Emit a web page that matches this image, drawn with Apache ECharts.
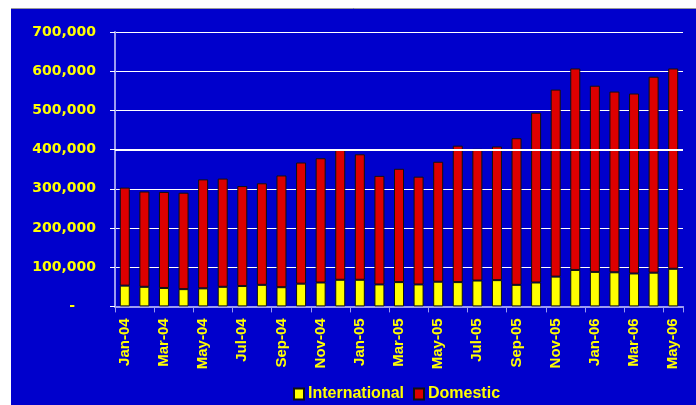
<!DOCTYPE html>
<html>
<head>
<meta charset="utf-8">
<script src="https://cdn.jsdelivr.net/npm/echarts@6/dist/echarts.min.js"></script>
<style>
  html, body { margin: 0; padding: 0; background: #ffffff; }
  #chart { width: 696px; height: 405px; }
</style>
</head>
<body>
<div id="chart"></div>
<script>
// Monthly passengers, Jan-04 to May-06
const months = [
  'Jan-04','Feb-04','Mar-04','Apr-04','May-04','Jun-04','Jul-04','Aug-04','Sep-04','Oct-04','Nov-04','Dec-04',
  'Jan-05','Feb-05','Mar-05','Apr-05','May-05','Jun-05','Jul-05','Aug-05','Sep-05','Oct-05','Nov-05','Dec-05',
  'Jan-06','Feb-06','Mar-06','Apr-06','May-06'
];
const international = [
  53000, 50000, 47000, 44000, 46000, 50000, 52000, 55000, 49000, 58000, 61000, 68000,
  68000, 56000, 62000, 56000, 63000, 62000, 66000, 67000, 55000, 61000, 76000, 93000,
  88000, 87000, 84000, 86000, 96000
];
const domestic = [
  250000, 243000, 245000, 246000, 278000, 276000, 255000, 259000, 285000, 309000, 317000, 331000,
  320000, 277000, 289000, 275000, 306000, 348000, 336000, 341000, 374000, 433000, 477000, 514000,
  475000, 461000, 459000, 500000, 511000
];
const yTicks = { min: 0, max: 700000, interval: 100000 };
const emphasisLevel = 400000;

const YELLOW = '#ffff00';
const RED = '#dd0000';
const AXIS = '#9c9cf0';

const chart = echarts.init(document.getElementById('chart'), null, { renderer: 'canvas' });

chart.setOption({
  backgroundColor: '#ffffff',
  animation: false,
  graphic: {
    elements: [
      {
        type: 'rect', z: -10,
        shape: { x: 11, y: 8, width: 685, height: 397 },
        style: { fill: '#0000cc' }
      },
      {
        type: 'line', z: -9,
        shape: { x1: 11, y1: 8.5, x2: 696, y2: 8.5 },
        style: { stroke: '#9a9a9a', lineWidth: 1 }
      }
    ]
  },
  grid: { left: 115, right: 13, top: 32, bottom: 98.6, containLabel: false },
  legend: {
    data: ['International', 'Domestic'],
    left: 293, top: 386,
    padding: 0,
    itemWidth: 10, itemHeight: 11,
    itemGap: 9,
    icon: 'rect',
    textStyle: { color: YELLOW, fontFamily: 'Liberation Sans', fontWeight: 'bold', fontSize: 16, padding: [0, 0, 0, -1] }
  },
  xAxis: {
    type: 'category',
    data: months,
    axisLine: { show: true, lineStyle: { color: AXIS, width: 2 } },
    axisTick: { show: true, interval: 1, length: 6, lineStyle: { color: AXIS, width: 1 } },
    axisLabel: {
      interval: 1, rotate: 90, margin: 12,
      color: YELLOW, fontFamily: 'Liberation Sans', fontWeight: 'bold', fontSize: 15
    },
    splitLine: { show: false }
  },
  yAxis: {
    type: 'value',
    min: yTicks.min, max: yTicks.max, interval: yTicks.interval,
    axisLine: { show: true, lineStyle: { color: AXIS, width: 2 } },
    axisTick: { show: true, length: 5, lineStyle: { color: '#ffffff', width: 1 } },
    axisLabel: {
      margin: 19,
      color: YELLOW, fontFamily: 'DejaVu Sans', fontWeight: 'bold', fontSize: 14,
      formatter: function (v) {
        if (v === 0) return '{z|-}';
        return v.toLocaleString('en-US');
      },
      rich: {
        z: { color: YELLOW, fontFamily: 'DejaVu Sans', fontWeight: 'bold', fontSize: 14, padding: [0, 21, 0, 0] }
      }
    },
    splitLine: { show: true, lineStyle: { color: '#ffffff', width: 1 } }
  },
  series: [
    {
      // holder for the heavier 400,000 gridline, kept behind the bars
      name: 'gridEmphasis',
      type: 'line',
      data: [],
      z: 1,
      silent: true,
      markLine: {
        silent: true, symbol: 'none', label: { show: false },
        lineStyle: { color: '#ffffff', width: 2, type: 'solid' },
        data: [{ yAxis: emphasisLevel }]
      }
    },
    {
      name: 'International',
      type: 'bar',
      stack: 'total',
      data: international,
      barWidth: 10,
      itemStyle: { color: YELLOW, borderColor: '#111111', borderWidth: 1 }
    },
    {
      name: 'Domestic',
      type: 'bar',
      stack: 'total',
      data: domestic,
      barWidth: 10,
      itemStyle: { color: RED, borderColor: '#111111', borderWidth: 1 }
    }
  ]
});
</script>
</body>
</html>
